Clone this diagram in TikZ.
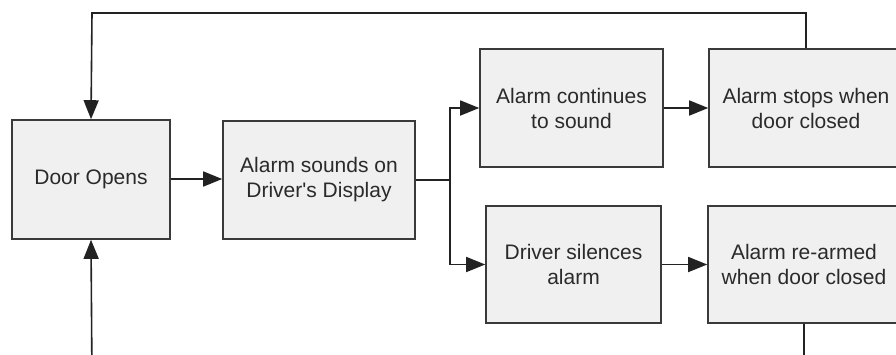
\documentclass[tikz,border=0pt]{standalone}
\usepackage{fontspec}
\setmainfont{Liberation Sans}
\usetikzlibrary{arrows.meta}
\definecolor{boxfill}{HTML}{F0F0F0}
\definecolor{boxline}{HTML}{3A3A3A}
\definecolor{txt}{HTML}{2A2A2A}
\definecolor{conn}{HTML}{222222}
\tikzset{
  stepbox/.style={draw=boxline, fill=boxfill, line width=1.6pt, align=center,
    text=txt, font=\fontsize{21}{25}\selectfont, inner sep=0pt},
  arr/.style={draw=conn, line width=1.6pt,
    -{Triangle[length=19pt,width=15pt]}},
  ln/.style={draw=conn, line width=1.6pt}
}
\begin{document}
\begin{tikzpicture}[x=1pt,y=-1pt]
\useasboundingbox (0,0) rectangle (896,354);
\clip (0,0) rectangle (896,354);
\fill[white] (0,0) rectangle (896,354);
\node[stepbox, minimum width=158pt, minimum height=119pt] (door) at (91,179.5) {Door Opens};
\node[stepbox, minimum width=192pt, minimum height=118pt] (sound) at (319,180) {Alarm sounds on\\Driver\textquotesingle s Display};
\node[stepbox, minimum width=183pt, minimum height=118pt] (cont) at (571.5,108) {Alarm continues\\to sound};
\node[stepbox, minimum width=194pt, minimum height=118pt] (stops) at (806,108) {Alarm stops when\\door closed};
\node[stepbox, minimum width=175pt, minimum height=117pt] (silence) at (573.5,264.5) {Driver silences\\alarm};
\node[stepbox, minimum width=192pt, minimum height=117pt] (rearm) at (804,264.5) {Alarm re-armed\\when door closed};
\coordinate (branch) at (450,180);
\coordinate (top) at (92,13);
\coordinate (bot) at (92,380);
\draw[arr] (door.east |- 0,179) -- (sound.west |- 0,179);
\draw[ln] (sound.east) -- (branch);
\draw[arr] (branch) |- (cont.west);
\draw[arr] (branch) |- (silence.west);
\draw[arr] (cont.east) -- (stops.west);
\draw[arr] (silence.east) -- (rearm.west);
\draw[arr] (stops.north) |- (top) -- (door.north);
\draw[arr] (rearm.south) |- (bot) -- (door.south);
\end{tikzpicture}
\end{document}
